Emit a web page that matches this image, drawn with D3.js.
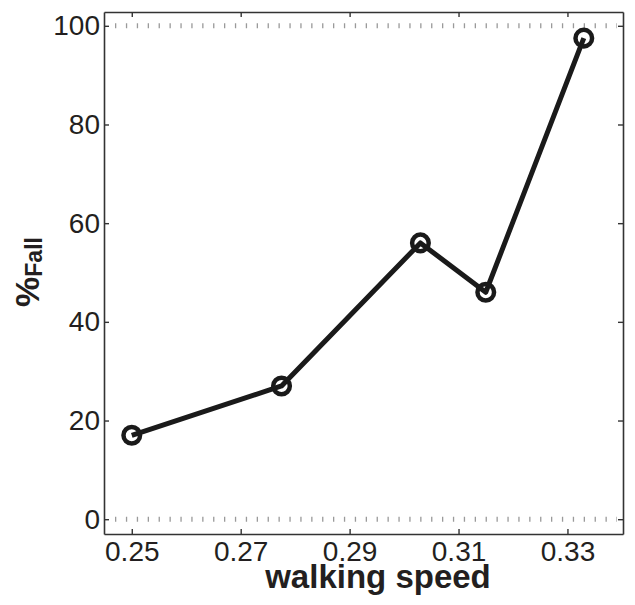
<!DOCTYPE html>
<html>
<head>
<meta charset="utf-8">
<script src="https://cdn.jsdelivr.net/npm/d3@7"></script>
<style>
  body { margin: 0; background: #fff; }
  text { font-family: "Liberation Sans", Arial, sans-serif; fill: #231f20; }
</style>
</head>
<body>
<div id="chart"></div>
<script>
// data
var speed = [0.25, 0.2775, 0.303, 0.315, 0.333];
var fallPct = [17, 27, 56, 46, 97.5];
var xTicks = [0.25, 0.27, 0.29, 0.31, 0.33];
var yTicks = [0, 20, 40, 60, 80, 100];
var refLines = [0, 100];

var width = 635, height = 605;
var box = {left: 104, right: 623, top: 12, bottom: 534};

var svg = d3.select("#chart").append("svg")
    .attr("width", width)
    .attr("height", height);

var x = d3.scaleLinear()
    .domain([0.2449, 0.3402])
    .range([box.left, box.right]);

var y = d3.scaleLinear()
    .domain([-3, 102.8])
    .range([box.bottom, box.top]);

var axisColour = "#333";

// dotted reference lines at 0 and 100
svg.selectAll(".ref").data(refLines).enter().append("line")
    .attr("class", "ref")
    .attr("x1", box.left + 11)
    .attr("x2", box.right - 6)
    .attr("y1", function(d) { return y(d); })
    .attr("y2", function(d) { return y(d); })
    .attr("stroke", "#9a9a9a")
    .attr("stroke-width", 5)
    .attr("stroke-dasharray", "1.3 9.6");

// axes, ticks inside like matlab
var tickLen = 5;
function styleAxis(g) {
    g.select(".domain").attr("stroke", axisColour).attr("stroke-width", 1.6);
    g.selectAll("line").attr("stroke", axisColour).attr("stroke-width", 1.4);
    g.selectAll("text").attr("font-size", 28).attr("fill", "#231f20");
}

svg.append("g")
    .attr("transform", "translate(0," + box.bottom + ")")
    .call(d3.axisBottom(x).tickValues(xTicks).tickSizeInner(-tickLen).tickSizeOuter(0)
        .tickFormat(d3.format(".2f")).tickPadding(7))
    .call(styleAxis);

svg.append("g")
    .attr("transform", "translate(" + box.left + ",0)")
    .call(d3.axisLeft(y).tickValues(yTicks).tickSizeInner(-tickLen).tickSizeOuter(0).tickPadding(4))
    .call(styleAxis);

// mirrored top/right axes
svg.append("g")
    .attr("transform", "translate(0," + box.top + ")")
    .call(d3.axisTop(x).tickValues(xTicks).tickSizeInner(-tickLen).tickSizeOuter(0).tickFormat(""))
    .call(styleAxis);

svg.append("g")
    .attr("transform", "translate(" + box.right + ",0)")
    .call(d3.axisRight(y).tickValues(yTicks).tickSizeInner(-tickLen).tickSizeOuter(0).tickFormat(""))
    .call(styleAxis);

// data line
var pts = speed.map(function(s, i) { return [s, fallPct[i]]; });

svg.append("path")
    .datum(pts)
    .attr("fill", "none")
    .attr("stroke", "#1a1a1a")
    .attr("stroke-width", 5)
    .attr("stroke-linejoin", "round")
    .attr("d", d3.line()
        .x(function(d) { return x(d[0]); })
        .y(function(d) { return y(d[1]); }));

svg.selectAll(".marker").data(pts).enter().append("circle")
    .attr("class", "marker")
    .attr("cx", function(d) { return x(d[0]); })
    .attr("cy", function(d) { return y(d[1]); })
    .attr("r", 8.3)
    .attr("fill", "none")
    .attr("stroke", "#1a1a1a")
    .attr("stroke-width", 4.5);

// axis labels
svg.append("text")
    .attr("x", 378)
    .attr("y", 588)
    .attr("text-anchor", "middle")
    .attr("font-size", 33)
    .attr("font-weight", "bold")
    .text("walking speed");

var yl = svg.append("text")
    .attr("transform", "translate(39,272) rotate(-90)")
    .attr("text-anchor", "middle")
    .attr("font-weight", "bold");
yl.append("tspan").attr("font-size", 34).text("%");
yl.append("tspan").attr("font-size", 23).attr("dy", 3).text("Fall");
</script>
</body>
</html>
